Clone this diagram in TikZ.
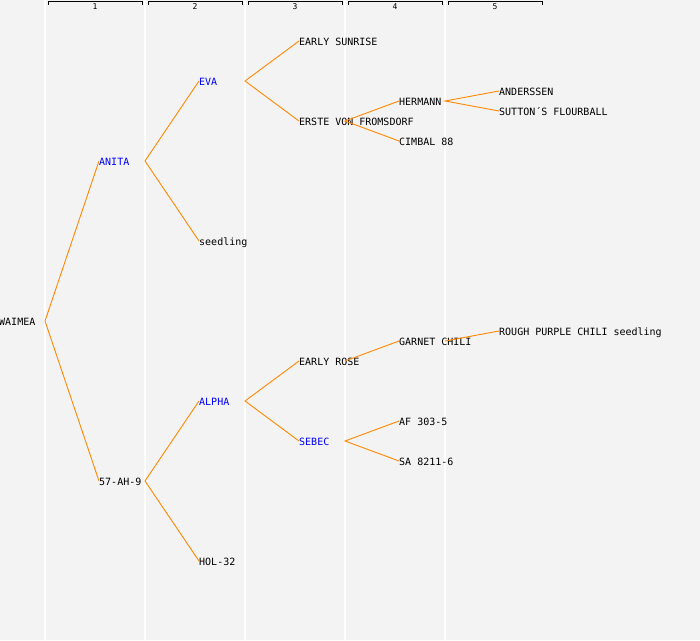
\documentclass[tikz,border=0pt]{standalone}
\usepackage{fontspec}
\setmonofont{DejaVu Sans Mono}
\definecolor{bggray}{HTML}{F3F3F3}
\definecolor{lineorange}{HTML}{FF8800}

\begin{document}
\begin{tikzpicture}[x=1pt,y=-1pt,
    lbl/.style={anchor=west,inner sep=0pt,text height=9pt,text depth=0pt,
      font=\ttfamily\fontsize{10}{12}\selectfont},
    sel/.style={lbl,text=blue},
    link/.style={draw=lineorange,line width=0.9pt}]
      \fill[bggray] (0,0) rectangle (700,640);
      \useasboundingbox (0,0) rectangle (700,640);
      % generation columns and header
      \foreach \c in {1,...,5}{
        \draw[white,line width=1.5pt] (\c*100-55,0) -- (\c*100-55,640);
        \draw[line width=0.8pt] (\c*100-52,4.5) -- (\c*100-52,1.5) -- (\c*100+42,1.5) -- (\c*100+42,4.5);
        \node[font=\ttfamily\fontsize{8}{9}\selectfont,inner sep=0pt] (gen\c) at (\c*100-5,6.5) {\c};
      }
      % varieties
      \node[lbl] (waimea) at (-1,321) {WAIMEA};
      \node[sel] (anita) at (99,161) {ANITA};
      \node[lbl] (ah9) at (99,481) {57-AH-9};
      \node[sel] (eva) at (199,81) {EVA};
      \node[lbl] (seedling) at (199,241) {seedling};
      \node[sel] (alpha) at (199,401) {ALPHA};
      \node[lbl] (hol) at (199,561) {HOL-32};
      \node[lbl] (sunrise) at (299,41) {EARLY SUNRISE};
      \node[lbl] (erste) at (299,121) {ERSTE VON FROMSDORF};
      \node[lbl] (rose) at (299,361) {EARLY ROSE};
      \node[sel] (sebec) at (299,441) {SEBEC};
      \node[lbl] (hermann) at (399,101) {HERMANN};
      \node[lbl] (cimbal) at (399,141) {CIMBAL 88};
      \node[lbl] (garnet) at (399,341) {GARNET CHILI};
      \node[lbl] (af) at (399,421) {AF 303-5};
      \node[lbl] (sa) at (399,461) {SA 8211-6};
      \node[lbl] (anderssen) at (499,91) {ANDERSSEN};
      \node[lbl] (sutton) at (499,111) {SUTTON´S FLOURBALL};
      \node[lbl] (rough) at (499,331) {ROUGH PURPLE CHILI seedling};
      % parentage
      \draw[link] (anita.west) -- ([xshift=46pt]waimea.west) -- (ah9.west);
      \draw[link] (eva.west) -- ([xshift=46pt]anita.west) -- (seedling.west);
      \draw[link] (alpha.west) -- ([xshift=46pt]ah9.west) -- (hol.west);
      \draw[link] (sunrise.west) -- ([xshift=46pt]eva.west) -- (erste.west);
      \draw[link] (rose.west) -- ([xshift=46pt]alpha.west) -- (sebec.west);
      \draw[link] (hermann.west) -- ([xshift=46pt]erste.west) -- (cimbal.west);
      \draw[link] ([xshift=46pt]rose.west) -- (garnet.west);
      \draw[link] (af.west) -- ([xshift=46pt]sebec.west) -- (sa.west);
      \draw[link] (anderssen.west) -- ([xshift=46pt]hermann.west) -- (sutton.west);
      \draw[link] ([xshift=46pt]garnet.west) -- (rough.west);
    \end{tikzpicture}
\end{document}
